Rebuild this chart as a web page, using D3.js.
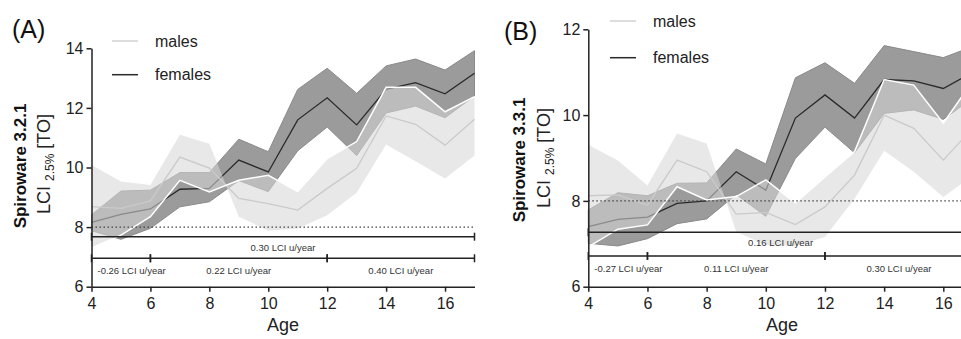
<!DOCTYPE html>
<html><head><meta charset="utf-8">
<script src="https://cdn.jsdelivr.net/npm/d3@7"></script>
<style>
body{margin:0;background:#fff}
svg{display:block}
text{font-family:"Liberation Sans",Arial,Helvetica,sans-serif}
</style>
</head><body>
<svg id="chart" width="961" height="339"></svg>
<script>
// ---------- data ----------
const ages = [4,5,6,7,8,9,10,11,12,13,14,15,16,17];
const xTicks = [4,6,8,10,12,14,16];

// Panel A : Spiroware 3.2.1
const yTicksA = [6,8,10,12,14];
const femalesMeanA = [8.16,8.43,8.61,9.27,9.30,10.25,9.85,11.60,12.34,11.43,12.62,12.85,12.47,13.16];
const femalesHighA = [8.41,9.21,9.24,9.83,9.83,10.95,10.53,12.62,13.33,12.49,13.41,13.64,13.27,13.92];
const femalesLowA  = [7.88,7.59,7.96,8.68,8.85,9.56,9.19,10.56,11.36,10.40,11.83,12.06,11.67,12.40];
const malesMeanA   = [8.69,8.63,8.88,10.35,9.98,8.96,8.79,8.57,9.30,9.97,11.73,11.45,10.75,11.62];
const malesEdge1A  = [7.30,7.73,8.35,9.57,9.18,9.57,9.74,9.19,10.30,10.87,12.69,12.69,11.87,12.38];
const malesEdge2A  = [10.08,9.53,9.41,11.10,10.80,8.35,7.88,7.95,8.40,9.15,10.77,10.21,9.63,10.40];
const trendAllA    = {from:4, to:17, label:"0.30 LCI u/year"};
const trendPartsA  = [{from:4,to:6,label:"-0.26 LCI u/year"},{from:6,to:12,label:"0.22 LCI u/year"},{from:12,to:17,label:"0.40 LCI u/year"}];

// Panel B : Spiroware 3.3.1
const yTicksB = [6,8,10,12];
const femalesMeanB = [7.40,7.57,7.62,7.94,8.00,8.68,8.25,9.93,10.47,9.93,10.83,10.80,10.62,11.00];
const femalesHighB = [7.79,8.19,8.12,8.41,8.42,9.21,8.86,10.87,11.22,10.74,11.62,11.48,11.34,11.60];
const femalesLowB  = [7.01,6.95,7.12,7.47,7.58,8.15,7.64,8.99,9.72,9.12,10.04,10.12,9.90,10.40];
const malesMeanB   = [8.12,8.14,7.90,8.95,8.68,7.69,7.73,7.45,7.86,8.60,10.00,9.69,8.95,9.70];
const malesEdge1B  = [6.93,7.34,7.44,8.33,8.02,8.10,8.49,7.95,8.56,9.15,10.83,10.70,9.81,10.80];
const malesEdge2B  = [9.31,8.94,8.36,9.57,9.34,7.28,6.97,6.95,7.16,8.05,9.17,8.68,8.09,8.60];
const trendAllB    = {from:4, to:17, label:"0.16 LCI u/year"};
const trendPartsB  = [{from:4,to:6,label:"-0.27 LCI u/year"},{from:6,to:12,label:"0.11 LCI u/year"},{from:12,to:17,label:"0.30 LCI u/year"}];

const legendLabels = ["males","females"];

// ---------- drawing ----------
const svg = d3.select("#chart");

function drawPanel(p){
  const g = svg.append("g");
  const x = d3.scaleLinear().domain([4,17]).range([p.x0, p.x1]);
  const y = d3.scaleLinear().domain([6, p.yMax]).range([286.7, p.yTop]);
  const rows = ages.map((a,i)=>({age:a, fm:p.fMean[i], fl:p.fLow[i], fh:p.fHigh[i],
                                  mm:p.mMean[i], m1:p.mEdge1[i], m2:p.mEdge2[i]}));

  // females band + mean
  g.append("path").datum(rows)
    .attr("d", d3.area().x(d=>x(d.age)).y0(d=>y(d.fl)).y1(d=>y(d.fh)))
    .attr("fill","#9b9b9b").attr("stroke","#8a8a8a").attr("stroke-width",1);
  g.append("path").datum(rows)
    .attr("d", d3.line().x(d=>x(d.age)).y(d=>y(d.fm)))
    .attr("fill","none").attr("stroke","#2a2a2a").attr("stroke-width",1.3);

  // males band (translucent, on top) + mean + edge
  g.append("path").datum(rows)
    .attr("d", d3.area().x(d=>x(d.age)).y0(d=>y(d.m1)).y1(d=>y(d.m2)))
    .attr("fill","#d6d6d6").attr("fill-opacity",0.56);
  g.append("path").datum(rows)
    .attr("d", d3.line().x(d=>x(d.age)).y(d=>y(d.mm)))
    .attr("fill","none").attr("stroke","#cacaca").attr("stroke-width",1.3);
  g.append("path").datum(rows)
    .attr("d", d3.line().x(d=>x(d.age)).y(d=>y(d.m1)))
    .attr("fill","none").attr("stroke","#ffffff").attr("stroke-width",1.5);

  // reference dotted line at 8
  g.append("line").attr("x1",x(4)).attr("x2",x(17)).attr("y1",y(8)).attr("y2",y(8))
    .attr("stroke","#444").attr("stroke-width",1.3).attr("stroke-dasharray","1.5,2.5");

  // trend brackets
  function bracket(segs, yPix, labelDy){
    segs.forEach(s=>{
      g.append("line").attr("x1",x(s.from)).attr("x2",x(s.to)).attr("y1",yPix).attr("y2",yPix)
        .attr("stroke","#222").attr("stroke-width",1.5);
      [s.from,s.to].forEach(t=>{
        g.append("line").attr("x1",x(t)).attr("x2",x(t)).attr("y1",yPix-4).attr("y2",yPix+4)
          .attr("stroke","#222").attr("stroke-width",1.5);
      });
      const t = g.append("text").attr("y",yPix+labelDy).attr("font-size","9.5px").attr("fill","#333")
        .text(s.label);
      const w = t.node().getComputedTextLength();
      const segW = x(s.to)-x(s.from);
      if (w+10 > segW) t.attr("x", x(s.from)+6).attr("text-anchor","start");
      else t.attr("x",(x(s.from)+x(s.to))/2).attr("text-anchor","middle");
    });
  }
  bracket([p.trendAll], p.br1, 14);
  bracket(p.trendParts, p.br2, 15.5);

  // axes
  const yAxis = g.append("g").attr("transform",`translate(${p.x0},0)`)
    .call(d3.axisLeft(y).tickValues(p.yTicks).tickFormat(d3.format("d")).tickSize(5).tickSizeOuter(0).tickPadding(3));
  const xAxis = g.append("g").attr("transform","translate(0,286.7)")
    .call(d3.axisBottom(x).tickValues(xTicks).tickFormat(d3.format("d")).tickSize(5).tickSizeOuter(0).tickPadding(6));
  [yAxis,xAxis].forEach(a=>{
    a.select(".domain").attr("stroke","#222").attr("stroke-width",1.5);
    a.selectAll(".tick line").attr("stroke","#222").attr("stroke-width",1.5);
    a.selectAll(".tick text").attr("font-size","16px").attr("fill","#222")
      .attr("font-family",'"Liberation Sans",Arial,sans-serif');
  });

  // axis titles
  g.append("text").attr("x",(x(4)+x(17))/2 - (p.ageShift||0)).attr("y",331).attr("text-anchor","middle")
    .attr("font-size","18px").attr("fill","#222").text("Age");
  g.append("text").attr("transform",`translate(${p.t1x},${p.t1y}) rotate(-90)`)
    .attr("text-anchor","middle").attr("font-size","17px").attr("font-weight","bold").attr("fill","#111")
    .text(p.title);
  const t2 = g.append("text").attr("transform",`translate(${p.t2x},${p.t2y}) rotate(-90)`)
    .attr("text-anchor","middle").attr("font-size","18px").attr("fill","#222");
  t2.append("tspan").text("LCI ");
  t2.append("tspan").attr("font-size","12px").attr("dy",4).text("2.5%");
  t2.append("tspan").attr("dy",-4).text(" [TO]");

  // panel letter
  g.append("text").attr("x",p.lx).attr("y",p.ly).attr("font-size","25px").attr("fill","#111").text(p.letter);

  // legend
  const legColors = ["#d2d2d2","#2a2a2a"];
  legendLabels.forEach((lab,i)=>{
    const ly = p.legY[i];
    g.append("line").attr("x1",p.legX).attr("x2",p.legX+26).attr("y1",ly).attr("y2",ly)
      .attr("stroke",legColors[i]).attr("stroke-width",1.5);
    g.append("text").attr("x",p.legX+43).attr("y",ly+5.5).attr("font-size","16px").attr("fill","#222").text(lab);
  });
}

drawPanel({x0:91.5, x1:474.5, yMax:14, yTop:48.3, yTicks:yTicksA,
  fMean:femalesMeanA, fLow:femalesLowA, fHigh:femalesHighA,
  mMean:malesMeanA, mEdge1:malesEdge1A, mEdge2:malesEdge2A,
  trendAll:trendAllA, trendParts:trendPartsA, br1:236.7, br2:258.3,
  title:"Spiroware 3.2.1", t1x:25.5, t1y:166, t2x:50, t2y:164,
  letter:"(A)", lx:12, ly:37.5, legX:112, legY:[41,74.7]});

drawPanel({x0:588.3, x1:972.9, yMax:12, yTop:29.3, yTicks:yTicksB,
  fMean:femalesMeanB, fLow:femalesLowB, fHigh:femalesHighB,
  mMean:malesMeanB, mEdge1:malesEdge1B, mEdge2:malesEdge2B,
  trendAll:trendAllB, trendParts:trendPartsB, br1:232.3, br2:256,
  title:"Spiroware 3.3.1", t1x:524.5, t1y:160, t2x:550, t2y:158,
  letter:"(B)", lx:504, ly:39.5, legX:610, legY:[21,57.7], ageShift:-1.5});
</script>
</body></html>
